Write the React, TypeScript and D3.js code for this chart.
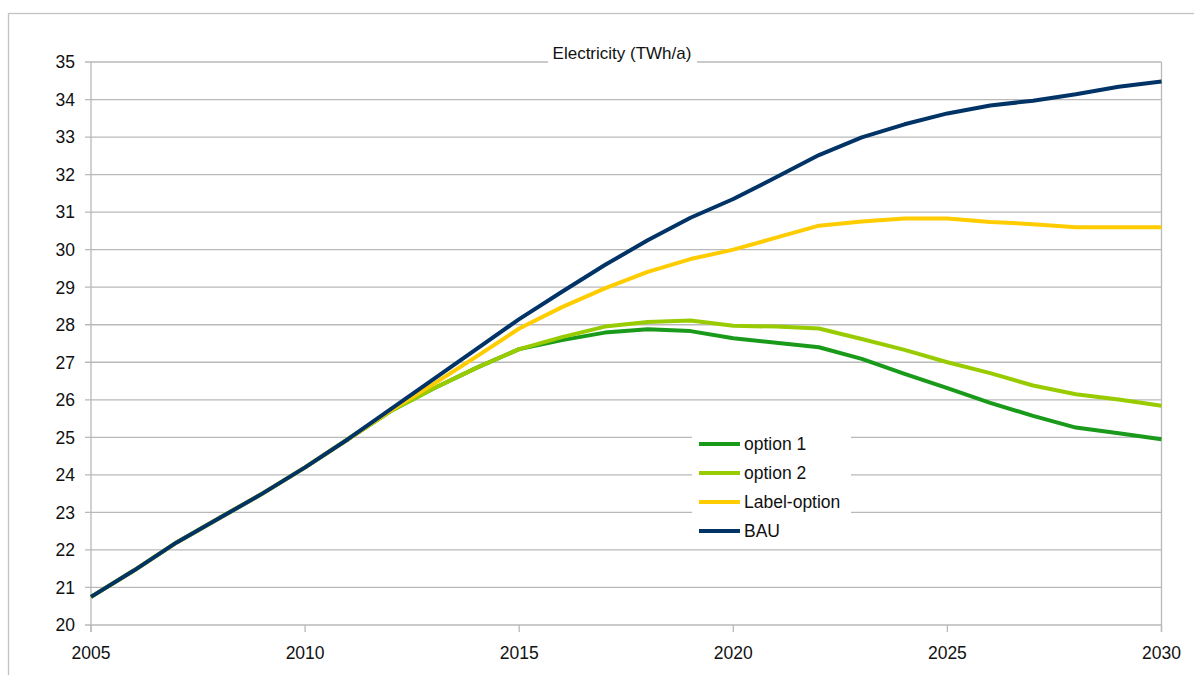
import React from 'react';
import * as d3 from 'd3';

// data
const years = [2005, 2006, 2007, 2008, 2009, 2010, 2011, 2012, 2013, 2014, 2015, 2016, 2017,
  2018, 2019, 2020, 2021, 2022, 2023, 2024, 2025, 2026, 2027, 2028, 2029, 2030];

const option1 = [20.75, 21.45, 22.2, 22.85, 23.5, 24.2, 24.95, 25.7, 26.3, 26.85, 27.35, 27.59, 27.79,
  27.88, 27.83, 27.64, 27.52, 27.4, 27.09, 26.69, 26.31, 25.92, 25.57, 25.26, 25.11, 24.95];
const option2 = [20.75, 21.45, 22.2, 22.85, 23.5, 24.2, 24.95, 25.7, 26.3, 26.85, 27.35, 27.67, 27.95,
  28.07, 28.11, 27.97, 27.95, 27.9, 27.62, 27.33, 27.0, 26.71, 26.38, 26.15, 26.01, 25.84];
const labelOption = [20.75, 21.45, 22.2, 22.85, 23.5, 24.2, 24.95, 25.72, 26.42, 27.15, 27.9, 28.47, 28.97,
  29.41, 29.75, 30.0, 30.32, 30.64, 30.75, 30.83, 30.83, 30.74, 30.68, 30.6, 30.6, 30.6];
const bau = [20.75, 21.45, 22.2, 22.85, 23.5, 24.2, 24.95, 25.75, 26.55, 27.35, 28.15, 28.88, 29.59,
  30.25, 30.85, 31.35, 31.93, 32.52, 32.99, 33.34, 33.63, 33.84, 33.97, 34.14, 34.34, 34.48];

const seriesNames = ['option 1', 'option 2', 'Label-option', 'BAU'];
const seriesColors = ['#1a9a1a', '#99cc00', '#ffcc00', '#003366'];
const xTicks = [2005, 2010, 2015, 2020, 2025, 2030];
const yTicks = [20, 21, 22, 23, 24, 25, 26, 27, 28, 29, 30, 31, 32, 33, 34, 35];
const title = 'Electricity (TWh/a)';

const W = 1194;
const H = 675;
const left = 91;
const right = 1161.5;
const top = 62;
const bottom = 625;
const font = '"Liberation Sans", Arial, sans-serif';
const grid = '#b9b9b9';

export default function App() {
  const x = d3.scaleLinear().domain([2005, 2030]).range([left, right]);
  const y = d3.scaleLinear().domain([20, 35]).range([bottom, top]);

  const line = d3.line<number>()
    .x((_, i) => x(years[i]))
    .y((d) => y(d));

  const allSeries = [option1, option2, labelOption, bau];

  const legendX = 699;
  const legendY = 444;
  const legendStep = 29;

  return (
    <svg width={W} height={H} style={{ position: 'absolute', left: 0, top: 0 }}
      fontFamily={font}>
      <rect x={0} y={0} width={W} height={H} fill="#fff" />
      {/* outer frame */}
      <rect x={8.5} y={13.5} width={W} height={H} fill="none" stroke="#c3c3c3" strokeWidth={1.3} />

      {/* horizontal grid + y ticks */}
      {yTicks.map((t) => (
        <g key={t}>
          <line x1={left - 6} x2={right} y1={y(t)} y2={y(t)} stroke={grid} strokeWidth={1.3} />
          <text x={75} y={y(t)} dy="0.36em" textAnchor="end" fontSize={17.5} fill="#111">{t}</text>
        </g>
      ))}

      {/* axes */}
      <line x1={left} x2={left} y1={top} y2={bottom + 7} stroke={grid} strokeWidth={1.3} />
      <line x1={right} x2={right} y1={top} y2={bottom + 7} stroke={grid} strokeWidth={1.3} />
      {xTicks.map((t) => (
        <g key={t}>
          <line x1={x(t)} x2={x(t)} y1={bottom} y2={bottom + 7} stroke={grid} strokeWidth={1.3} />
          <text x={x(t)} y={659} textAnchor="middle" fontSize={17.5} fill="#111">{t}</text>
        </g>
      ))}

      {/* title over the top gridline */}
      <rect x={548} y={48} width={149} height={18} fill="#fff" />
      <text x={622} y={59} textAnchor="middle" fontSize={17} fill="#111">{title}</text>

      {/* series */}
      {allSeries.map((s, i) => (
        <path key={seriesNames[i]} d={line(s) || ''} fill="none" stroke={seriesColors[i]}
          strokeWidth={4} strokeLinejoin="round" />
      ))}

      {/* legend */}
      <rect x={692} y={430} width={159} height={116} fill="#fff" />
      {seriesNames.map((name, i) => (
        <g key={name}>
          <line x1={legendX} x2={legendX + 41} y1={legendY + i * legendStep} y2={legendY + i * legendStep}
            stroke={seriesColors[i]} strokeWidth={4} />
          <text x={744} y={legendY + i * legendStep} dy="0.36em" fontSize={17.5} fill="#111">{name}</text>
        </g>
      ))}
    </svg>
  );
}
